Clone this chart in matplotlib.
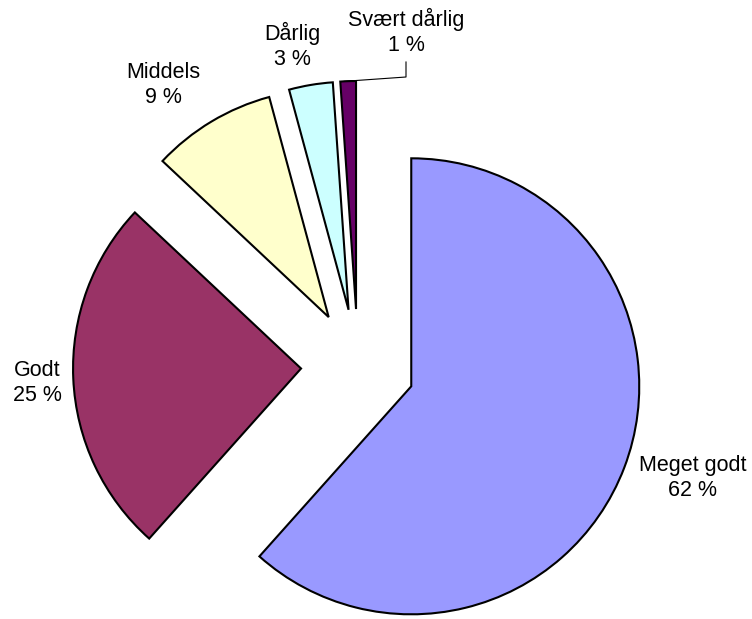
import numpy as np
import matplotlib
matplotlib.use("Agg")
import matplotlib.pyplot as plt

categories = ["Meget godt", "Godt", "Middels", "Dårlig", "Svært dårlig"]
shares = [61.6, 25.4, 8.8, 3.1, 1.1]
colors = ["#9999FF", "#993366", "#FFFFCC", "#CCFFFF", "#660066"]
explode = [0.25, 0.25, 0.25, 0.25, 0.25]

plt.rcParams["font.family"] = ["Liberation Sans", "DejaVu Sans"]

W, H = 752, 619
CX, CY, R = 358, 366, 228  # pie centre / radius in pixels


def px(x, y):
    """pixel position -> data coords (pie radius = 1)"""
    return (x - CX) / R, (CY - y) / R


fig = plt.figure(figsize=(W / 100, H / 100), dpi=100)
ax = fig.add_axes([0, 0, 1, 1])

wedges, _ = ax.pie(shares, colors=colors, explode=explode, startangle=90,
                   counterclock=False, radius=1.0, center=(0, 0),
                   wedgeprops=dict(edgecolor="black", linewidth=1.5))

# pie() resets the limits, so set them afterwards
ax.set_xlim(-CX / R, (W - CX) / R)
ax.set_ylim(-(H - CY) / R, CY / R)
ax.set_aspect("equal")
ax.axis("off")

# label positions (pixels)
label_pos = [(693, 478), (37, 383), (163, 85), (292, 46), (406, 32)]
for name, v, (lx, ly) in zip(categories, shares, label_pos):
    x, y = px(lx, ly)
    ax.text(x, y, f"{name}\n{round(v)} %", ha="center", va="center",
            fontsize=15.5, linespacing=1.2)

# leader line for the smallest slice
w = wedges[-1]
ang = np.deg2rad(max(w.theta1, w.theta2) - 1.0)
sx = w.center[0] + w.r * np.cos(ang)
sy = w.center[1] + w.r * np.sin(ang)
p1 = px(406, 77)
p2 = px(406, 62)
ax.plot([sx, p1[0], p2[0]], [sy, p1[1], p2[1]], color="black", lw=0.8)

fig.savefig("out.png", dpi=100)
